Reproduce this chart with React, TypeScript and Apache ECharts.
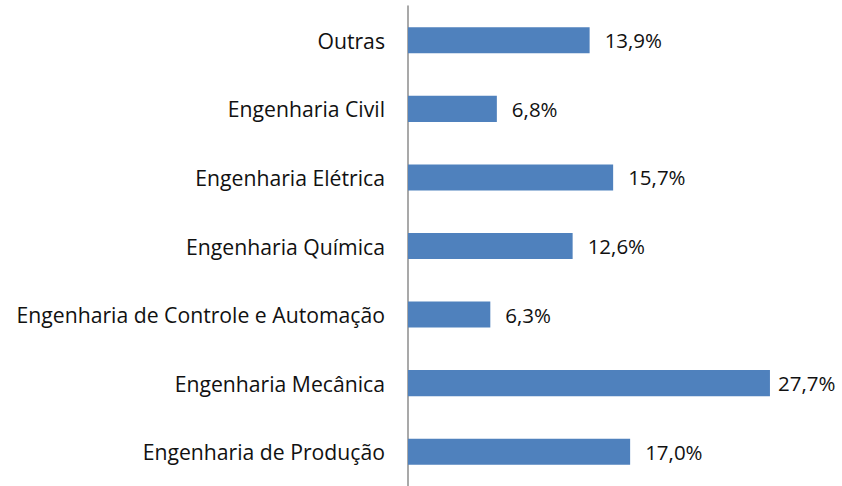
import React, { useEffect, useRef } from "react";
import * as echarts from "echarts";

const categories = [
  "Engenharia de Produção",
  "Engenharia Mecânica",
  "Engenharia de Controle e Automação",
  "Engenharia Química",
  "Engenharia Elétrica",
  "Engenharia Civil",
  "Outras",
];
const values = [17.0, 27.7, 6.3, 12.6, 15.7, 6.8, 13.9];

const FONT = "'Open Sans', 'Noto Sans', sans-serif";

export default function App() {
  const ref = useRef<HTMLDivElement>(null);
  useEffect(() => {
    if (!ref.current) return;
    const chart = echarts.init(ref.current, undefined, { renderer: "svg" });
    chart.setOption({
      animation: false,
      grid: { left: 408, right: 42, top: 6, height: 481, containLabel: false },
      xAxis: {
        type: "value",
        min: 0,
        max: 30,
        show: false,
      },
      yAxis: {
        type: "category",
        data: categories,
        axisLine: { show: true, lineStyle: { color: "#8c8c8c", width: 1.5 } },
        axisTick: { show: false },
        axisLabel: {
          margin: 23,
          color: "#111111",
          fontFamily: FONT,
          fontSize: 21.2,
        },
      },
      series: [
        {
          type: "bar",
          data: values.map((v) => ({
            value: v,
            label: { distance: v > 25 ? 8 : 15 },
          })),
          barWidth: "38%",
          itemStyle: { color: "#4f81bd" },
          label: {
            show: true,
            position: "right",
            color: "#111111",
            fontFamily: FONT,
            fontSize: 20.5,
            formatter: (p: any) => p.value.toFixed(1).replace(".", ",") + "%",
          },
        },
      ],
    });
    return () => chart.dispose();
  }, []);
  return (
    <div
      ref={ref}
      style={{ position: "fixed", left: 0, top: 0, width: 842, height: 486, background: "#fff" }}
    />
  );
}
